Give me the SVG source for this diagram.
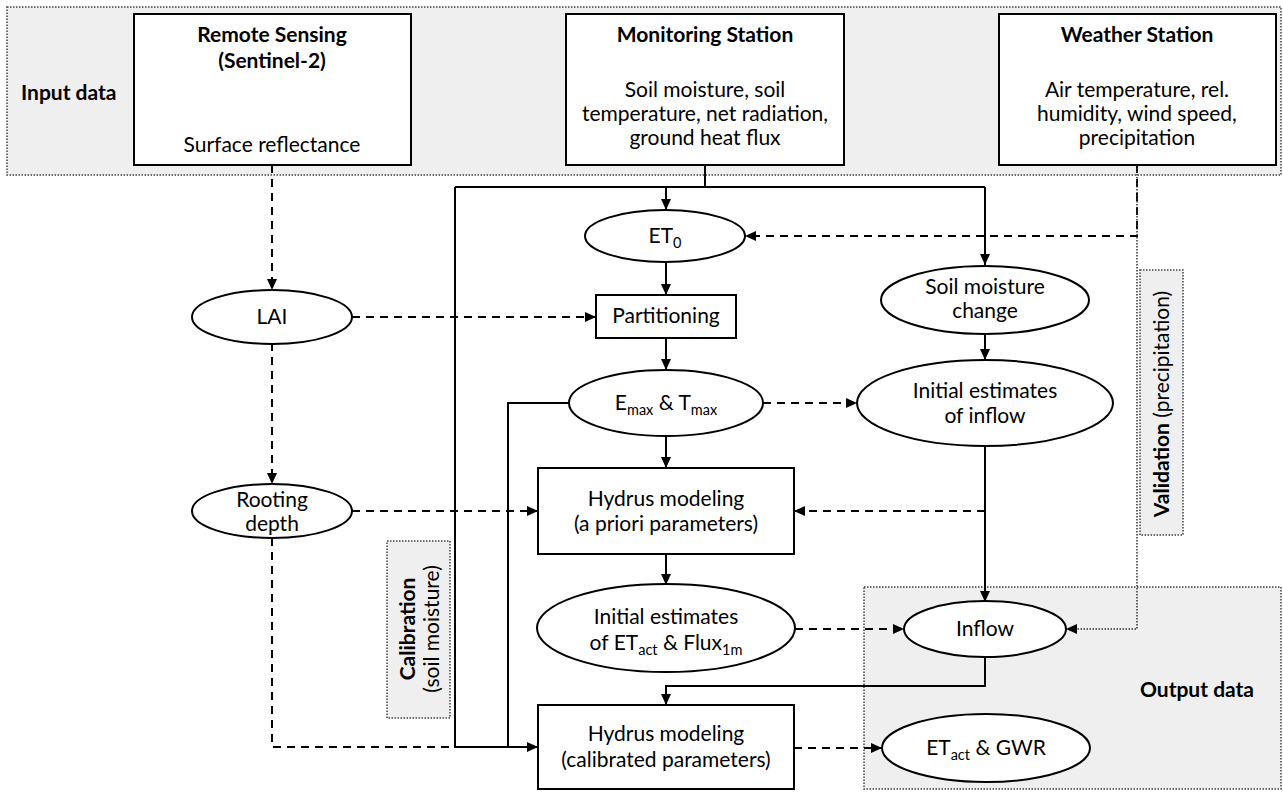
<svg xmlns="http://www.w3.org/2000/svg" width="1283" height="792" viewBox="0 0 1283 792">
<style>
text{font-family:Lato,"Liberation Sans",sans-serif;font-size:21px;fill:#000;text-anchor:middle}
.b{font-weight:bold}
.band{fill:#efefef;stroke:#444;stroke-width:1.5;stroke-dasharray:1.5 1.5}
.node{fill:#fff;stroke:#000;stroke-width:2}
.c{fill:none;stroke:#000;stroke-width:2}
.d{fill:none;stroke:#000;stroke-width:2;stroke-dasharray:8 6}
.o{fill:none;stroke:#333;stroke-width:1.5;stroke-dasharray:1.5 1.5}
.sub{font-size:14.5px}
</style>
<defs>
<marker id="a" markerUnits="userSpaceOnUse" markerWidth="12" markerHeight="10" refX="11" refY="5" orient="auto">
<path d="M0,0 L11,5 L0,10 z" fill="#000" stroke="none"/>
</marker>
</defs>
<g id="input-band">
<rect class="band" x="7" y="7" width="1274" height="168"/>
<text class="b" x="21" y="100" style="text-anchor:start">Input data</text>
</g>
<g id="output-band">
<rect class="band" x="864" y="587" width="417" height="202"/>
<text class="b" x="1197" y="697">Output data</text>
</g>
<g id="calibration">
<rect class="band" x="387" y="541" width="63" height="177"/>
<text class="b" transform="translate(415,629) rotate(-90)">Calibration</text>
<text transform="translate(439,629) rotate(-90)">(soil moisture)</text>
</g>
<g id="validation">
<rect class="band" x="1140" y="270" width="43" height="265"/>
<text transform="translate(1169,404) rotate(-90)"><tspan class="b">Validation</tspan> (precipitation)</text>
</g>
<g id="connectors">
<path class="c" d="M705,165 V187 M455,187 H985"/>
<path class="c" d="M666,187 V210" marker-end="url(#a)"/>
<path class="c" d="M985,187 V265" marker-end="url(#a)"/>
<path class="c" d="M455,187 V747 H538" marker-end="url(#a)"/>
<path class="c" d="M569,403 H508 V747"/>
<path class="c" d="M666,262 V295" marker-end="url(#a)"/>
<path class="c" d="M666,338 V370" marker-end="url(#a)"/>
<path class="c" d="M666,436 V468" marker-end="url(#a)"/>
<path class="c" d="M666,554 V585" marker-end="url(#a)"/>
<path class="c" d="M985,334 V360" marker-end="url(#a)"/>
<path class="c" d="M985,446 V602" marker-end="url(#a)"/>
<path class="c" d="M985,657 V686 H666 V705" marker-end="url(#a)"/>
<path class="d" d="M272,165 V290" marker-end="url(#a)"/>
<path class="d" d="M352,317 H596" marker-end="url(#a)"/>
<path class="d" d="M272,343 V484" marker-end="url(#a)"/>
<path class="d" d="M352,511 H538" marker-end="url(#a)"/>
<path class="d" d="M272,538 V747 H455"/>
<path class="d" d="M1137,165 V236 H745" marker-end="url(#a)"/>
<path class="d" d="M763,403 H857" marker-end="url(#a)"/>
<path class="d" d="M985,511 H794" marker-end="url(#a)"/>
<path class="d" d="M795,629 H904" marker-end="url(#a)"/>
<path class="d" d="M794,748 H882" marker-end="url(#a)"/>
<path class="o" d="M1137,165 V629 H1066" marker-end="url(#a)"/>
</g>
<g id="remote-sensing">
<rect class="node" x="134" y="14" width="277" height="151"/>
<text class="b" x="272" y="42">Remote Sensing</text>
<text class="b" x="272" y="68">(Sentinel-2)</text>
<text x="272" y="152">Surface reflectance</text>
</g>
<g id="monitoring-station">
<rect class="node" x="566" y="14" width="278" height="151"/>
<text class="b" x="705" y="42">Monitoring Station</text>
<text x="705" y="97">Soil moisture, soil</text>
<text x="705" y="121">temperature, net radiation,</text>
<text x="705" y="145">ground heat flux</text>
</g>
<g id="weather-station">
<rect class="node" x="999" y="14" width="277" height="151"/>
<text class="b" x="1137" y="42">Weather Station</text>
<text x="1137" y="97">Air temperature, rel.</text>
<text x="1137" y="121">humidity, wind speed,</text>
<text x="1137" y="145">precipitation</text>
</g>
<g id="et0">
<ellipse class="node" cx="665" cy="236" rx="80" ry="26"/>
<text x="665" y="243">ET<tspan class="sub" dy="5">0</tspan></text>
</g>
<g id="lai">
<ellipse class="node" cx="272" cy="317" rx="80" ry="27"/>
<text x="272" y="324">LAI</text>
</g>
<g id="partitioning">
<rect class="node" x="596" y="295" width="140" height="43"/>
<text x="666" y="323">Partitioning</text>
</g>
<g id="soil-moisture-change">
<ellipse class="node" cx="985" cy="300" rx="104" ry="34"/>
<text x="985" y="294">Soil moisture</text>
<text x="985" y="318">change</text>
</g>
<g id="emax-tmax">
<ellipse class="node" cx="666" cy="403" rx="97" ry="33"/>
<text x="666" y="410">E<tspan class="sub" dy="5">max</tspan><tspan dy="-5"> &amp; T</tspan><tspan class="sub" dy="5">max</tspan></text>
</g>
<g id="initial-inflow">
<ellipse class="node" cx="985" cy="403" rx="128" ry="43"/>
<text x="985" y="398">Initial estimates</text>
<text x="985" y="423">of inflow</text>
</g>
<g id="rooting-depth">
<ellipse class="node" cx="272" cy="511" rx="80" ry="27"/>
<text x="272" y="507">Rooting</text>
<text x="272" y="531">depth</text>
</g>
<g id="hydrus-apriori">
<rect class="node" x="538" y="468" width="256" height="86"/>
<text x="666" y="506">Hydrus modeling</text>
<text x="666" y="531">(a priori parameters)</text>
</g>
<g id="initial-et">
<ellipse class="node" cx="666" cy="628" rx="129" ry="44"/>
<text x="666" y="624">Initial estimates</text>
<text x="666" y="650">of ET<tspan class="sub" dy="5">act</tspan><tspan dy="-5"> &amp; Flux</tspan><tspan class="sub" dy="5">1m</tspan></text>
</g>
<g id="inflow">
<ellipse class="node" cx="985" cy="629" rx="81" ry="28"/>
<text x="985" y="636">Inflow</text>
</g>
<g id="hydrus-calibrated">
<rect class="node" x="538" y="705" width="256" height="84"/>
<text x="666" y="741">Hydrus modeling</text>
<text x="666" y="767">(calibrated parameters)</text>
</g>
<g id="etact-gwr">
<ellipse class="node" cx="986" cy="748" rx="104" ry="34"/>
<text x="986" y="755">ET<tspan class="sub" dy="5">act</tspan><tspan dy="-5"> &amp; GWR</tspan></text>
</g>
</svg>
